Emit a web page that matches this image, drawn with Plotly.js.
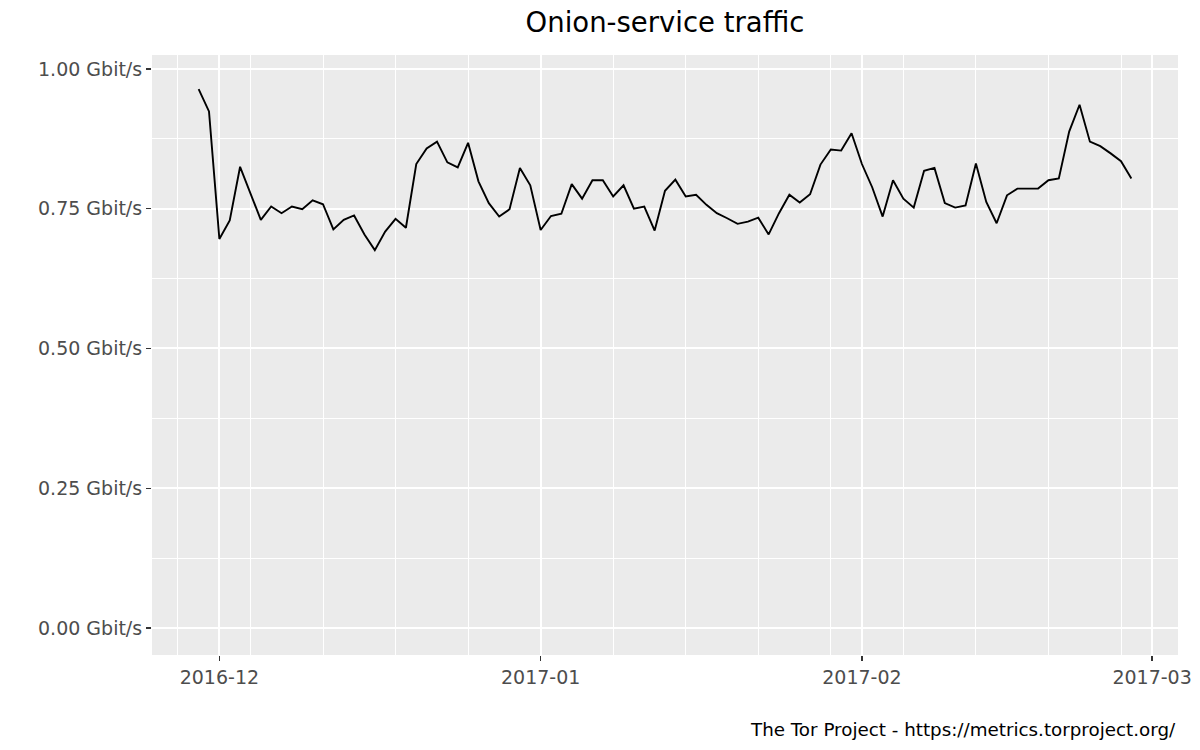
<!DOCTYPE html>
<html>
<head>
<meta charset="utf-8">
<script src="https://cdn.plot.ly/plotly-3.0.1.min.js"></script>
<style>html,body{margin:0;padding:0;background:#fff;}#chart{width:1200px;height:750px;}</style>
</head>
<body>
<div id="chart"></div>
<script>
const dates = [
  "2016-11-29","2016-11-30",
  "2016-12-01","2016-12-02","2016-12-03","2016-12-04","2016-12-05","2016-12-06","2016-12-07","2016-12-08","2016-12-09","2016-12-10",
  "2016-12-11","2016-12-12","2016-12-13","2016-12-14","2016-12-15","2016-12-16","2016-12-17","2016-12-18","2016-12-19","2016-12-20",
  "2016-12-21","2016-12-22","2016-12-23","2016-12-24","2016-12-25","2016-12-26","2016-12-27","2016-12-28","2016-12-29","2016-12-30","2016-12-31",
  "2017-01-01","2017-01-02","2017-01-03","2017-01-04","2017-01-05","2017-01-06","2017-01-07","2017-01-08","2017-01-09","2017-01-10",
  "2017-01-11","2017-01-12","2017-01-13","2017-01-14","2017-01-15","2017-01-16","2017-01-17","2017-01-18","2017-01-19","2017-01-20",
  "2017-01-21","2017-01-22","2017-01-23","2017-01-24","2017-01-25","2017-01-26","2017-01-27","2017-01-28","2017-01-29","2017-01-30","2017-01-31",
  "2017-02-01","2017-02-02","2017-02-03","2017-02-04","2017-02-05","2017-02-06","2017-02-07","2017-02-08","2017-02-09","2017-02-10",
  "2017-02-11","2017-02-12","2017-02-13","2017-02-14","2017-02-15","2017-02-16","2017-02-17","2017-02-18","2017-02-19","2017-02-20",
  "2017-02-21","2017-02-22","2017-02-23","2017-02-24","2017-02-25","2017-02-26","2017-02-27"
];
const gbitps = [
  0.964, 0.924,
  0.696, 0.729, 0.825, 0.777, 0.730, 0.754, 0.742, 0.754, 0.749, 0.765,
  0.758, 0.713, 0.730, 0.738, 0.704, 0.676, 0.709, 0.732, 0.716, 0.830,
  0.858, 0.870, 0.833, 0.824, 0.868, 0.799, 0.760, 0.736, 0.749, 0.823, 0.792,
  0.712, 0.737, 0.741, 0.794, 0.768, 0.801, 0.801, 0.772, 0.792, 0.750,
  0.754, 0.711, 0.782, 0.802, 0.772, 0.775, 0.757, 0.742, 0.733, 0.723,
  0.727, 0.734, 0.704, 0.742, 0.775, 0.761, 0.776, 0.829, 0.856, 0.854, 0.885,
  0.830, 0.788, 0.736, 0.801, 0.768, 0.752, 0.818, 0.823, 0.760, 0.752,
  0.756, 0.831, 0.762, 0.724, 0.774, 0.786, 0.786, 0.786, 0.801, 0.804,
  0.888, 0.936, 0.870, 0.862, 0.849, 0.835, 0.804
];
const titleText = "Onion-service traffic";
const captionText = "The Tor Project - https://metrics.torproject.org/";

const font = "DejaVu Sans, sans-serif";
const trace = {
  x: dates, y: gbitps, type: "scatter", mode: "lines",
  line: {color: "#000000", width: 1.9}, hoverinfo: "x+y"
};
const layout = {
  width: 1200, height: 750,
  margin: {l: 152, r: 22, t: 55, b: 95},
  paper_bgcolor: "#ffffff", plot_bgcolor: "#EBEBEB",
  font: {family: font, size: 19, color: "#4D4D4D"},
  showlegend: false,
  title: {text: titleText, x: 0.5, xref: "paper", xanchor: "center",
          y: 1 - 22/750, yref: "container", yanchor: "middle",
          font: {family: font, size: 27.5, color: "#000000"}},
  xaxis: {
    type: "date",
    range: ["2016-11-24 12:00", "2017-03-03 12:00"],
    dtick: "M1", tick0: "2016-12-01", tickformat: "%Y-%m",
    ticks: "outside", ticklen: 5, tickwidth: 1.4, tickcolor: "#333333",
    showgrid: true, gridcolor: "#FFFFFF", gridwidth: 2,
    minor: {dtick: 7*86400000, tick0: "2016-11-27", showgrid: true, gridcolor: "#FFFFFF", gridwidth: 1},
    zeroline: false, showline: false,
    tickfont: {family: font, size: 19, color: "#4D4D4D"}
  },
  yaxis: {
    range: [-0.0483, 1.025],
    tickmode: "linear", tick0: 0, dtick: 0.25,
    tickformat: ".2f", ticksuffix: " Gbit/s",
    ticks: "outside", ticklen: 5, tickwidth: 1.4, tickcolor: "#333333",
    showgrid: true, gridcolor: "#FFFFFF", gridwidth: 2,
    minor: {dtick: 0.125, tick0: 0, showgrid: true, gridcolor: "#FFFFFF", gridwidth: 1},
    zeroline: false, showline: false,
    tickfont: {family: font, size: 19, color: "#4D4D4D"}
  },
  annotations: [{
    text: captionText, xref: "paper", yref: "paper",
    x: 1, y: (655 - 729) / 600, xanchor: "right", yanchor: "middle",
    showarrow: false, font: {family: font, size: 18.3, color: "#000000"}
  }]
};
Plotly.newPlot("chart", [trace], layout, {displayModeBar: false, staticPlot: true});
</script>
</body>
</html>
